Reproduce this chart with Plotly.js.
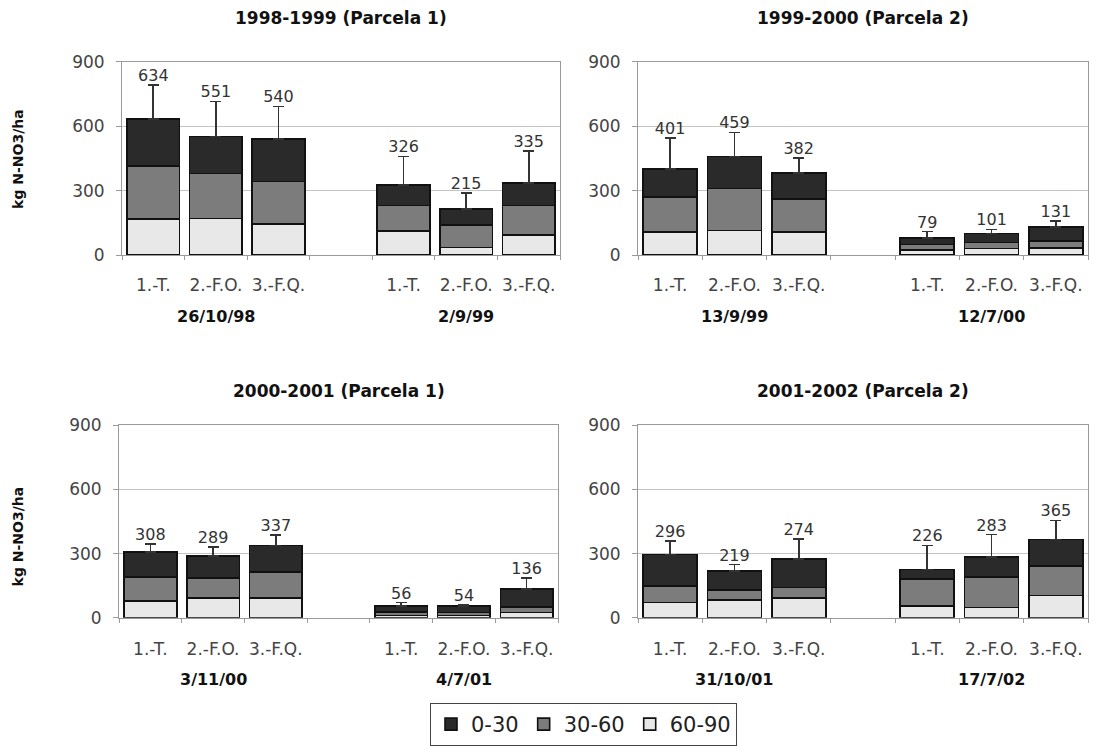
<!DOCTYPE html>
<html>
<head>
<meta charset="utf-8">
<script src="https://cdn.plot.ly/plotly-3.0.1.min.js"></script>
<style>
  html, body { margin: 0; padding: 0; background: #ffffff; }
  #chart { width: 1101px; height: 746px; }
</style>
</head>
<body>
<div id="chart"></div>
<script>
// Treatments shown in every sampling date
const treatments = ['1.-T.', '2.-F.O.', '3.-F.Q.'];

// One panel per season
const panelTitles = [
  '1998-1999 (Parcela 1)',
  '1999-2000 (Parcela 2)',
  '2000-2001 (Parcela 1)',
  '2001-2002 (Parcela 2)'
];

// Two sampling dates per season
const samplingDates = [
  ['26/10/98', '2/9/99'],
  ['13/9/99', '12/7/00'],
  ['3/11/00', '4/7/01'],
  ['31/10/01', '17/7/02']
];

// Soil nitrate by depth layer (kg N-NO3/ha); per panel: date 1 (T, FO, FQ), date 2 (T, FO, FQ)
const layer0to30 = [
  [219, 171, 197, 95, 73, 104],
  [129, 148, 121, 29, 41, 66],
  [117, 102, 123, 30, 30, 84],
  [147, 90, 133, 46, 92, 123]
];
const layer30to60 = [
  [246, 210, 197, 118, 106, 136],
  [164, 195, 153, 26, 28, 30],
  [112, 93, 120, 16, 14, 27],
  [78, 47, 47, 124, 143, 137]
];
const layer60to90 = [
  [169, 170, 146, 113, 36, 95],
  [108, 116, 108, 24, 32, 35],
  [79, 94, 94, 10, 10, 25],
  [71, 82, 94, 56, 48, 105]
];
// Upper error of the profile total
const errorUp = [
  [158, 164, 152, 133, 73, 150],
  [145, 112, 70, 31, 19, 28],
  [37, 42, 50, 15, 6, 50],
  [62, 30, 95, 112, 106, 90]
];

const layerNames = ['60-90', '30-60', '0-30'];
const layerColors = ['#e8e8e8', '#7c7c7c', '#2a2a2a'];

// Slot positions on the x axis: three bars, an empty slot, three bars
const slots = [0, 1, 2, 4, 5, 6];
const boundaries = [-0.5, 0.5, 1.5, 2.5, 3.5, 4.5, 5.5, 6.5];

// Plot areas in page pixels [left, right, top, bottom]
const W = 1101, H = 746;
const boxes = [
  [122, 560, 62, 257],
  [638, 1088, 62, 257],
  [119, 558, 428, 622],
  [638, 1088, 428, 622]
];

const FONT = 'DejaVu Sans, Verdana, sans-serif';
const traces = [];
const layout = {
  width: W, height: H,
  margin: {l: 0, r: 0, t: 0, b: 0},
  paper_bgcolor: '#ffffff',
  plot_bgcolor: '#ffffff',
  barmode: 'stack',
  bargap: 0.16,
  font: {family: FONT, size: 16, color: '#444444'},
  showlegend: true,
  legend: {
    orientation: 'h',
    x: 430 / W, xanchor: 'left',
    y: 1 - 708 / H, yanchor: 'top',
    traceorder: 'reversed',
    bordercolor: '#444444', borderwidth: 1,
    bgcolor: '#ffffff',
    font: {family: FONT, size: 21, color: '#222222'},
    itemwidth: 30,
    tracegroupgap: 0
  },
  annotations: []
};

for (let p = 0; p < 4; p++) {
  const n = p + 1;
  const xa = 'x' + (n === 1 ? '' : n);
  const ya = 'y' + (n === 1 ? '' : n);
  const [l, r, t, b] = boxes[p];
  const layers = [layer60to90[p], layer30to60[p], layer0to30[p]];

  layers.forEach((vals, k) => {
    const tr = {
      type: 'bar',
      x: slots,
      y: vals,
      xaxis: xa, yaxis: ya,
      name: layerNames[k],
      legendgroup: layerNames[k],
      showlegend: p === 0,
      marker: {color: layerColors[k], line: {color: '#111111', width: 1.6}},
      hoverinfo: 'skip'
    };
    if (k === 2) {
      tr.error_y = {
        type: 'data', symmetric: false,
        array: errorUp[p],
        arrayminus: errorUp[p].map(() => 0),
        color: '#333333', thickness: 1.6, width: 5.5
      };
    }
    traces.push(tr);
  });

  // Totals written above the error bars
  const totals = slots.map((_, i) => layers[0][i] + layers[1][i] + layers[2][i]);
  traces.push({
    type: 'scatter', mode: 'text',
    x: slots,
    y: totals.map((v, i) => v + errorUp[p][i]),
    text: totals.map(String),
    textposition: 'top center',
    textfont: {family: FONT, size: 16, color: '#333333'},
    xaxis: xa, yaxis: ya,
    showlegend: false, hoverinfo: 'skip', cliponaxis: false
  });

  const xKey = 'xaxis' + (n === 1 ? '' : n);
  const yKey = 'yaxis' + (n === 1 ? '' : n);
  layout[xKey] = {
    domain: [l / W, r / W],
    anchor: ya,
    range: [-0.5, 6.5],
    tickvals: slots,
    ticktext: slots.map((_, i) => treatments[i % 3]),
    ticks: '',
    ticklabelstandoff: p < 2 ? 14 : 16,
    tickfont: {family: FONT, size: 17, color: '#444444'},
    showgrid: false, zeroline: false,
    showline: true, linecolor: '#9a9a9a', linewidth: 1, mirror: true,
    fixedrange: true
  };
  layout[yKey] = {
    domain: [1 - b / H, 1 - t / H],
    anchor: xa,
    range: [0, 900],
    tickvals: [0, 300, 600, 900],
    ticks: 'outside', ticklen: 5, tickcolor: '#9a9a9a',
    ticklabelstandoff: 8,
    tickfont: {family: FONT, size: 17, color: '#444444'},
    showgrid: true, gridcolor: '#c4c4c4', gridwidth: 1,
    zeroline: false,
    showline: true, linecolor: '#9a9a9a', linewidth: 1, mirror: true,
    fixedrange: true
  };

  // Small tick marks on the category boundaries
  const bx = 4 + n;
  layout['xaxis' + bx] = {
    overlaying: xa,
    anchor: ya,
    range: [-0.5, 6.5],
    tickvals: boundaries,
    ticks: 'outside', ticklen: 4, tickcolor: '#9a9a9a',
    showticklabels: false, showgrid: false, zeroline: false, showline: false,
    fixedrange: true
  };
  traces.push({
    type: 'scatter', mode: 'markers', x: [], y: [],
    xaxis: 'x' + bx, yaxis: ya, showlegend: false, hoverinfo: 'skip'
  });

  // Sampling dates under each group of bars
  samplingDates[p].forEach((d, g) => {
    layout.annotations.push({
      text: '<b>' + d + '</b>',
      xref: xa, yref: ya + ' domain',
      x: g === 0 ? 1 : 5, y: 0,
      yanchor: 'middle', yshift: p < 2 ? -61 : -62,
      showarrow: false,
      font: {family: FONT, size: 16, color: '#111111'}
    });
  });

  // Season title
  layout.annotations.push({
    text: '<b>' + panelTitles[p] + '</b>',
    xref: 'paper', yref: 'paper',
    x: ((l + r) / 2) / W, y: 1 - (p < 2 ? 18 : 394) / H,
    xanchor: 'center', yanchor: 'middle',
    showarrow: false,
    font: {family: FONT, size: 17, color: '#111111'}
  });
}

// Shared y-axis titles for each row
[160, 540].forEach(cy => {
  layout.annotations.push({
    text: '<b>kg N-NO3/ha</b>',
    xref: 'paper', yref: 'paper',
    x: 18 / W, y: 1 - cy / H,
    xanchor: 'center', yanchor: 'middle',
    textangle: -90, showarrow: false,
    font: {family: FONT, size: 14, color: '#111111'}
  });
});

Plotly.newPlot('chart', traces, layout, {displayModeBar: false, staticPlot: true});
</script>
</body>
</html>
